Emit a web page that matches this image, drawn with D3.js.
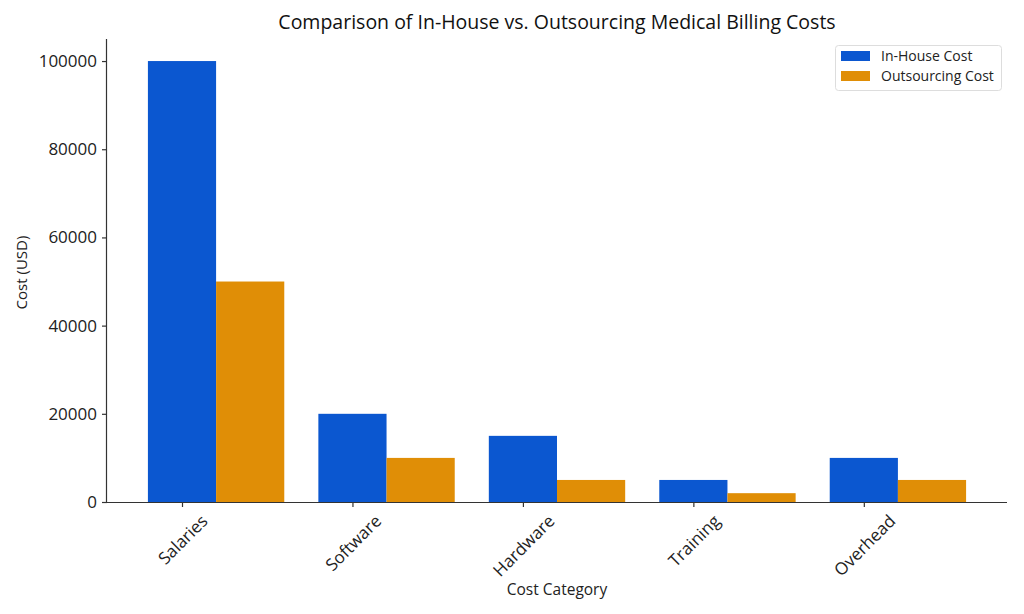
<!DOCTYPE html>
<html><head><meta charset="utf-8">
<script src="https://cdn.jsdelivr.net/npm/d3@7"></script>
<style>body{margin:0;background:#fff}svg{display:block}svg text{font-family:"Open Sans","Lato",sans-serif}</style>
</head><body><svg id="c" width="1024" height="614"></svg>
<script>
const categories = ["Salaries","Software","Hardware","Training","Overhead"];
const inHouse = [100000,20000,15000,5000,10000];
const outsourcing = [50000,10000,5000,2000,5000];
const yTicks = [0,20000,40000,60000,80000,100000];
const seriesNames = ["In-House Cost","Outsourcing Cost"];
const colors = ["#0b57d0","#e08e06"];

const svg = d3.select("#c");
const L=107,R=1007,T=39,B=502;
const x = d3.scaleLinear().domain([-0.44,4.84]).range([L,R]);
const y = d3.scaleLinear().domain([0,105000]).range([B,T]);
const w = x(0.4)-x(0);

const series=[inHouse,outsourcing];
series.forEach((vals,s)=>{
  svg.append("g").selectAll("rect").data(vals).join("rect")
    .attr("x",(d,i)=>x(i+s*0.4-0.2)).attr("y",d=>y(d))
    .attr("width",w).attr("height",d=>y(0)-y(d)).attr("fill",colors[s]);
});

const yAxis = svg.append("g").attr("transform",`translate(${L},0)`)
  .call(d3.axisLeft(y).tickValues(yTicks).tickFormat(d3.format("d")).tickSizeOuter(0).tickSize(5).tickPadding(5));
const xAxis = svg.append("g").attr("transform",`translate(0,${B})`)
  .call(d3.axisBottom(x).tickValues(d3.range(categories.length)).tickFormat(i=>categories[i]).tickSizeOuter(0).tickSize(5));
[yAxis,xAxis].forEach(a=>{a.attr("font-family",null).attr("font-size",null);
  a.selectAll("path,line").attr("stroke","#333").attr("stroke-width",1.2);
  a.selectAll("text").attr("fill","#222").style("font-size","17px");});
xAxis.select(".domain").attr("d",`M${L},0.5H${R}`);
yAxis.select(".domain").attr("d",`M-0.5,${B}V${T}`);
xAxis.selectAll("text").attr("text-anchor","middle").attr("dy",null).attr("y",0)
  .attr("dominant-baseline","central")
  .attr("transform",function(){
    const len=this.getComputedTextLength(); const fh=13;
    const h=(len+fh)*Math.SQRT1_2;
    return `translate(0,${11+h/2}) rotate(-45)`;
  });

svg.append("text").attr("x",557).attr("y",595).attr("text-anchor","middle").attr("fill","#222").style("font-size","15.5px").text("Cost Category");
svg.append("text").attr("transform",`translate(27,${(T+B)/2+2}) rotate(-90)`).attr("text-anchor","middle").attr("fill","#222").style("font-size","15px").text("Cost (USD)");
svg.append("text").attr("x",557).attr("y",29).attr("text-anchor","middle").attr("fill","#111").style("font-size","19.5px").text("Comparison of In-House vs. Outsourcing Medical Billing Costs");

const lg = svg.append("g");
lg.append("rect").attr("x",835.5).attr("y",45.5).attr("width",166).attr("height",45).attr("rx",3).attr("fill","#fff").attr("stroke","#ddd");
seriesNames.forEach((n,i)=>{
  lg.append("rect").attr("x",841).attr("y",51+i*20).attr("width",29).attr("height",10).attr("fill",colors[i]);
  lg.append("text").attr("x",881).attr("y",61+i*20).attr("fill","#222").style("font-size","14px").text(n);
});
</script></body></html>
